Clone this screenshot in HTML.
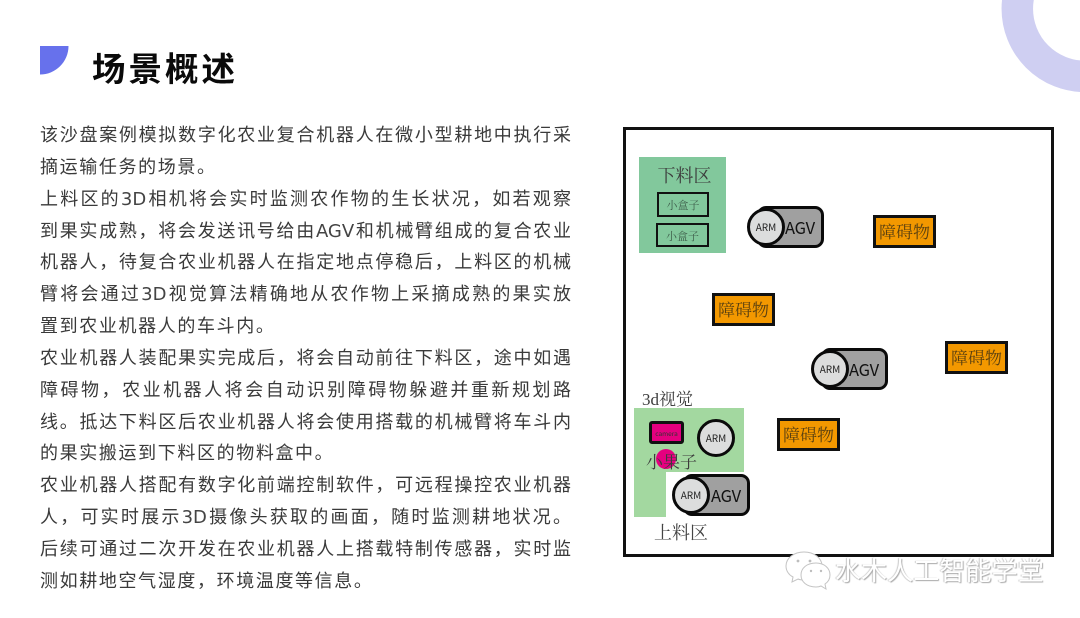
<!DOCTYPE html>
<html lang="zh"><head><meta charset="utf-8">
<style>
html,body{margin:0;padding:0;background:#fff}
#p{position:relative;width:1080px;height:618px;overflow:hidden;background:#fff;font-family:"Noto Sans CJK SC","Liberation Sans",sans-serif}
.l{position:absolute;left:40px;width:531px;height:32px;line-height:32px;font-size:18px;color:#3a3a3a;white-space:nowrap;letter-spacing:1.62px}
.j{text-align:justify;text-align-last:justify;white-space:normal;letter-spacing:0}
.l i{font-style:normal;font-family:"DejaVu Sans",sans-serif;font-size:18px;color:#444}
.b{position:absolute;box-sizing:border-box;display:flex;align-items:center;justify-content:center;white-space:nowrap}
.s{font-family:"Liberation Serif","Noto Serif CJK SC",serif;color:#3c3c3c}
.o{background:#f39800;border:3px solid #111;font-size:17px;width:63px;height:33px;color:#5a4010;padding-bottom:2px}
.box{border:2px solid #111;font-size:11px;color:#3f5f4c}
.agv{background:#a0a0a0;border:3px solid #0a0a0a;border-radius:9px;width:67px;height:42px;font-size:16.5px;color:#111;justify-content:flex-start;padding-left:25px;font-family:"Noto Sans CJK SC",sans-serif;letter-spacing:-.2px;padding-bottom:1px}
.arm{background:#dcdddd;border:3px solid #0a0a0a;border-radius:50%;width:38px;height:38px;font-size:10px;font-weight:400;color:#222;font-family:"Noto Sans CJK SC",sans-serif;padding-bottom:2px}
</style></head><body><div id="p">
<svg width="1080" height="618" style="position:absolute;left:0;top:0">
<circle cx="1085" cy="8.7" r="67.7" fill="none" stroke="#cfcff2" stroke-width="31.5"/>
<path d="M40 46H68.5A28.5 28.5 0 0 1 40 74.5Z" fill="#6771ec"/>
</svg>
<div class="b" style="left:92px;top:42px;height:48px;font-size:33.5px;font-weight:700;letter-spacing:3px;color:#0a0a0a">场景概述</div>

<div class="l j" style="top:118px">该沙盘案例模拟数字化农业复合机器人在微小型耕地中执行采</div>
<div class="l" style="top:150px">摘运输任务的场景。</div>
<div class="l j" style="top:182px">上料区的<i>3D</i>相机将会实时监测农作物的生长状况，如若观察</div>
<div class="l j" style="top:214px">到果实成熟，将会发送讯号给由<i>AGV</i>和机械臂组成的复合农业</div>
<div class="l j" style="top:245px">机器人，待复合农业机器人在指定地点停稳后，上料区的机械</div>
<div class="l j" style="top:277px">臂将会通过<i>3D</i>视觉算法精确地从农作物上采摘成熟的果实放</div>
<div class="l" style="top:309px">置到农业机器人的车斗内。</div>
<div class="l j" style="top:341px">农业机器人装配果实完成后，将会自动前往下料区，途中如遇</div>
<div class="l j" style="top:373px">障碍物，农业机器人将会自动识别障碍物躲避并重新规划路</div>
<div class="l j" style="top:405px">线。抵达下料区后农业机器人将会使用搭载的机械臂将车斗内</div>
<div class="l" style="top:436px">的果实搬运到下料区的物料盒中。</div>
<div class="l j" style="top:468px">农业机器人搭配有数字化前端控制软件，可远程操控农业机器</div>
<div class="l j" style="top:500px">人，可实时展示<i>3D</i>摄像头获取的画面，随时监测耕地状况。</div>
<div class="l j" style="top:532px">后续可通过二次开发在农业机器人上搭载特制传感器，实时监</div>
<div class="l" style="top:564px">测如耕地空气湿度，环境温度等信息。</div>

<div style="position:absolute;left:623px;top:127px;width:431px;height:430px;box-sizing:border-box;border:3px solid #111"></div>

<div style="position:absolute;left:639px;top:157px;width:87px;height:96px;background:#82c89c"></div>
<div class="b s" style="left:639px;top:163px;width:91px;height:24px;font-size:18px">下料区</div>
<div class="b box s" style="left:657px;top:192px;width:52px;height:25px;padding-top:1px">小盒子</div>
<div class="b box s" style="left:656px;top:223px;width:53px;height:24px;padding-top:1px">小盒子</div>

<div class="b agv" style="left:757px;top:206px">AGV</div>
<div class="b arm" style="left:747px;top:208px">ARM</div>
<div class="b agv" style="left:821px;top:348px">AGV</div>
<div class="b arm" style="left:811px;top:350px">ARM</div>

<div class="b o s" style="left:873px;top:215px">障碍物</div>
<div class="b o s" style="left:712px;top:293px">障碍物</div>
<div class="b o s" style="left:945px;top:341px">障碍物</div>
<div class="b o s" style="left:777px;top:418px">障碍物</div>

<div class="b s" style="left:642px;top:386px;height:22px;font-size:17px">3d视觉</div>
<svg width="1080" height="618" style="position:absolute;left:0;top:0">
<path d="M634 408H744V472H666V517H634Z" fill="#a3d8a0"/>
<circle cx="666" cy="459" r="10" fill="#e4007f"/>
</svg>
<div class="b" style="left:649px;top:421px;width:35px;height:23px;box-sizing:border-box;background:#e4007f;border:3px solid #111;border-radius:3px;font-size:6.5px;color:#333">camera</div>
<div class="b arm" style="left:697px;top:419px">ARM</div>
<div class="b s" style="left:646px;top:448px;height:24px;font-size:17px">小果子</div>
<div class="b agv" style="left:683px;top:474px">AGV</div>
<div class="b arm" style="left:672px;top:476px">ARM</div>
<div class="b s" style="left:654px;top:520px;height:24px;font-size:18px;color:#444">上料区</div>

<svg width="1080" height="618" style="position:absolute;left:0;top:0">
<g fill="#fff" stroke="#c4c4c4" stroke-width="1">
<path d="M804 552c-10 0-18 6-18 14 0 5 3 9 7 11l-1 5 6-3c2 1 4 1 6 1 10 0 18-6 18-14s-8-14-18-14z"/>
<path d="M816 563c-9 0-15 5-15 12s6 12 15 12c2 0 3 0 5-1l5 3-1-5c3-2 5-5 5-9 0-7-6-12-14-12z"/>
</g>
<g fill="#bdbdbd"><circle cx="798" cy="561" r="1.4"/><circle cx="810" cy="561" r="1.4"/><circle cx="811" cy="571" r="1.2"/><circle cx="821" cy="571" r="1.2"/></g>
</svg>
<div class="b" style="left:835px;top:551px;height:36px;font-size:26px;letter-spacing:.1px;color:#fff;text-shadow:1px 1px 1px #aaa,-1px 0 1px #c8c8c8">水木人工智能学堂</div>
</div></body></html>
